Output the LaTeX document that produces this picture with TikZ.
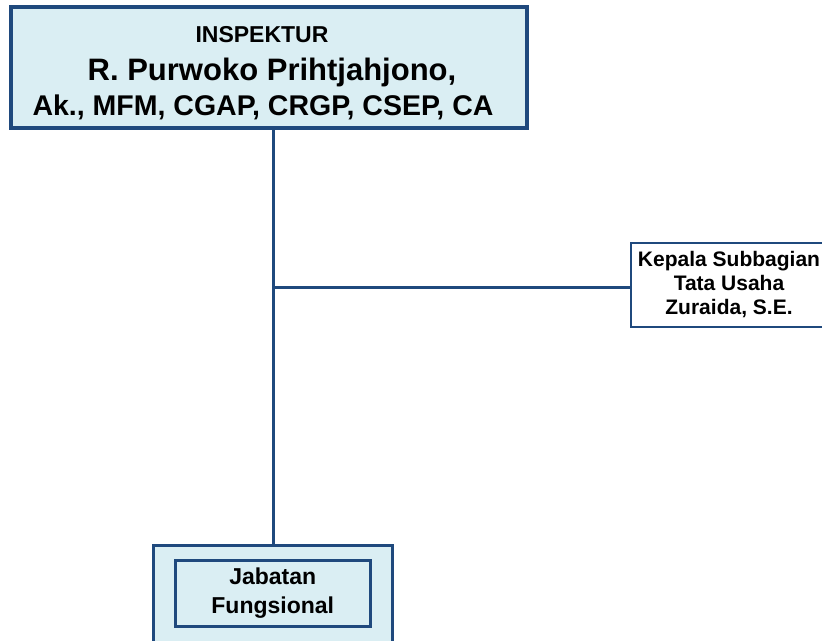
\documentclass[tikz,border=0pt]{standalone}
\usepackage{fontspec}
\setmainfont{Liberation Sans}
\definecolor{boxline}{RGB}{31,73,125}
\definecolor{boxfill}{HTML}{DAEEF3}
\tikzset{
	unit/.style={draw=boxline,fill=boxfill,inner sep=0pt},
	link/.style={draw=boxline,line width=3pt},
}

\begin{document}
\begin{tikzpicture}[x=1pt,y=-1pt]
		\useasboundingbox (0,0) rectangle (822,640);
		\fill [white] (0,0) rectangle (822,640);
		%
		\node [unit,line width=4pt,minimum width=516pt,minimum height=120.5pt] (insp) at (269,67.25) {};
		\node [anchor=base,font=\bfseries\fontsize{23}{26}\selectfont] (inspTitle) at (262,42) {INSPEKTUR};
		\node [anchor=base,font=\bfseries\fontsize{31}{34}\selectfont] (inspName) at (272,80) {R. Purwoko Prihtjahjono,};
		\node [anchor=base,font=\bfseries\fontsize{28.5}{34}\selectfont] (inspDegree) at (263,115) {Ak., MFM, CGAP, CRGP, CSEP, CA};
		%
		\node [unit,fill=white,line width=2.5pt,minimum width=196pt,minimum height=84pt,align=center,
			font=\bfseries\fontsize{21}{24}\selectfont] (kasubag) at (729,285) {Kepala Subbagian\\Tata Usaha\\Zuraida, S.E.};
		%
		\node [unit,line width=3pt,minimum width=239pt,minimum height=114.5pt] (jf) at (273,602.75) {};
		\node [unit,line width=3pt,minimum width=195.5pt,minimum height=66pt,align=center,
			font=\bfseries\fontsize{23}{29}\selectfont] (jfInner) at (272.75,593.5) {Jabatan\\Fungsional};
		%
		\coordinate (branch) at (273,287.5);
		\draw [link] (insp.south -| jf.north) -- (jf.north);
		\draw [link] (branch) -- (branch -| kasubag.west);
	\end{tikzpicture}
\end{document}
